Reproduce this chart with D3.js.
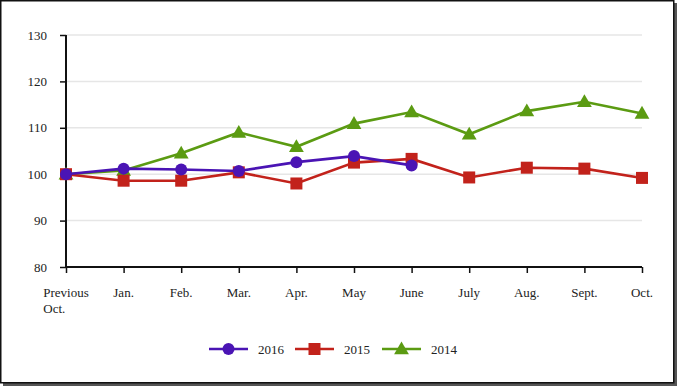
<!DOCTYPE html>
<html><head><meta charset="utf-8">
<script src="https://cdn.jsdelivr.net/npm/d3@7"></script>
<style>
html,body{margin:0;padding:0;background:#fff;}
svg{display:block;font-family:"Liberation Serif","Times New Roman",serif;}
</style></head>
<body><svg id="chart" width="677" height="386"></svg>
<script>
const categories = ["Previous Oct.","Jan.","Feb.","Mar.","Apr.","May","June","July","Aug.","Sept.","Oct."];
const yTicks = [80,90,100,110,120,130];
const values2016 = [100,101.2,101.0,100.7,102.6,103.9,101.9];
const values2015 = [100,98.6,98.6,100.4,98.0,102.5,103.3,99.3,101.4,101.2,99.2];
const values2014 = [100,100.8,104.5,109.0,105.9,110.9,113.4,108.6,113.6,115.6,113.1];
const seriesNames = ["2016","2015","2014"];
const colors = {"2016":"#4a14b4","2015":"#c2221b","2014":"#5b9b12"};

const svg = d3.select("#chart");
const W = 677, H = 386;
// frame with shadow
svg.append("rect").attr("x",3).attr("y",3).attr("width",W-3).attr("height",H-3).attr("fill","#555");
svg.append("rect").attr("x",0.75).attr("y",0.75).attr("width",W-4).attr("height",H-4)
  .attr("fill","#fff").attr("stroke","#111").attr("stroke-width",1.5);

const x = d3.scalePoint().domain(categories).range([66,642]);
const y = d3.scaleLinear().domain([80,130]).range([267,35]);

// gridlines
svg.append("g").selectAll("line").data(yTicks.filter(t=>t>80)).join("line")
  .attr("x1",66).attr("x2",642).attr("y1",d=>y(d)).attr("y2",d=>y(d))
  .attr("stroke","#e6e6e6").attr("stroke-width",1.5);

// y axis
const yAxis = svg.append("g").attr("transform","translate(66,0)")
  .call(d3.axisLeft(y).tickValues(yTicks).tickSize(6).tickPadding(13).tickFormat(d3.format("d")));
yAxis.select(".domain").remove();
yAxis.selectAll(".tick line").attr("stroke","#111").attr("stroke-width",1.5);
yAxis.selectAll(".tick text").attr("font-family","Liberation Serif").attr("font-size",13).attr("fill","#222");

// x axis
const xAxis = svg.append("g").attr("transform","translate(0,267)")
  .call(d3.axisBottom(x).tickSize(6).tickPadding(0).tickFormat(""));
xAxis.select(".domain").remove();
xAxis.selectAll(".tick line").attr("stroke","#111").attr("stroke-width",1.5);
// axis lines
svg.append("line").attr("x1",66).attr("x2",66).attr("y1",35).attr("y2",268).attr("stroke","#111").attr("stroke-width",2);
svg.append("line").attr("x1",65).attr("x2",642).attr("y1",267).attr("y2",267).attr("stroke","#111").attr("stroke-width",2);

// x labels
const xl = svg.append("g").attr("font-size",13).attr("fill","#222");
categories.forEach(c=>{
  const parts = c === "Previous Oct." ? ["Previous","Oct."] : [c];
  const t = xl.append("text").attr("y",297);
  t.append("tspan").text(parts[0]).attr("x",x(c)).attr("text-anchor","middle");
  if(parts.length>1){
    const w = t.node().getComputedTextLength();
    t.attr("text-anchor","start");
    t.select("tspan").attr("text-anchor","start").attr("x",x(c)-w/2);
    t.append("tspan").text(parts[1]).attr("x",x(c)-w/2).attr("dy",16);
  }
});

const data = {"2016":values2016,"2015":values2015,"2014":values2014};
const line = d3.line().x((d,i)=>x(categories[i])).y(d=>y(d));

function marker(g, name, cx, cy){
  const col = colors[name];
  if(name==="2016") g.append("circle").attr("cx",cx).attr("cy",cy).attr("r",6).attr("fill",col);
  else if(name==="2015") g.append("rect").attr("x",cx-6).attr("y",cy-6).attr("width",12).attr("height",12).attr("fill",col);
  else g.append("path").attr("d",d3.symbol(d3.symbolTriangle,95)()).attr("transform",`translate(${cx},${cy+1})`).attr("fill",col);
}

["2014","2015","2016"].forEach(name=>{
  const g = svg.append("g");
  g.append("path").datum(data[name]).attr("d",line).attr("fill","none")
    .attr("stroke",colors[name]).attr("stroke-width",2.6);
  data[name].forEach((v,i)=>marker(g,name,x(categories[i]),y(v)));
});

// legend
const legX = {"2016":209,"2015":295,"2014":382};
const lg = svg.append("g");
seriesNames.forEach(name=>{
  const lx = legX[name], ly = 349;
  lg.append("line").attr("x1",lx).attr("x2",lx+39).attr("y1",ly).attr("y2",ly)
    .attr("stroke",colors[name]).attr("stroke-width",2.6);
  marker(lg,name,lx+19.5,ly);
  lg.append("text").attr("x",lx+49).attr("y",ly+4.5).attr("font-size",13).attr("fill","#222").text(name);
});
</script></body></html>
